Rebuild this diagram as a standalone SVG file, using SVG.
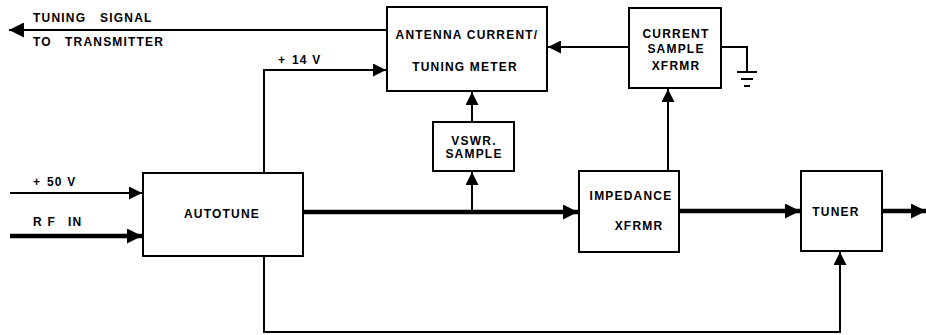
<svg xmlns="http://www.w3.org/2000/svg" width="926" height="335" viewBox="0 0 926 335">
<style>
.box{fill:#fff;stroke:#000;stroke-width:2}
.t{font-family:"Liberation Sans",Arial,sans-serif;font-weight:bold;font-size:12px;letter-spacing:1.2px;fill:#000}
.m{text-anchor:middle}
.thin{fill:none;stroke:#000;stroke-width:2}
.thick{fill:none;stroke:#000;stroke-width:4.5}
</style>
<defs>
<marker id="a" markerUnits="userSpaceOnUse" markerWidth="14" markerHeight="13" refX="13" refY="6.5" orient="auto"><path d="M0,0 L13,6.5 L0,13 z" fill="#000"/></marker>
<marker id="ab" markerUnits="userSpaceOnUse" markerWidth="16" markerHeight="15" refX="15" refY="7.5" orient="auto"><path d="M0,0 L15,7.5 L0,15 z" fill="#000"/></marker>
</defs>
<rect width="926" height="335" fill="#fff"/>
<g id="connectors">
<path class="thin" d="M387,30 L9,30" marker-end="url(#ab)"/>
<path class="thin" d="M264,172 L264,70 L386,70" marker-end="url(#a)"/>
<path class="thin" d="M629,47 L548,47" marker-end="url(#a)"/>
<path class="thin" d="M721,47 L747,47 L747,72"/>
<path class="thin" d="M737,72 L757,72 M741,79 L753,79 M744,86 L750,86"/>
<path class="thin" d="M472,122 L472,92" marker-end="url(#a)"/>
<path class="thin" d="M472,212 L472,172" marker-end="url(#a)"/>
<path class="thin" d="M668,171 L668,89" marker-end="url(#a)"/>
<path class="thin" d="M10,193 L142,193" marker-end="url(#a)"/>
<path class="thick" d="M10,236 L142,236" marker-end="url(#ab)"/>
<path class="thick" d="M303,212 L578,212" marker-end="url(#ab)"/>
<path class="thick" d="M679,211 L800,211" marker-end="url(#ab)"/>
<path class="thick" d="M882,211 L926,211" marker-end="url(#ab)"/>
<path class="thin" d="M264,256 L264,332 L840,332 L840,252" marker-end="url(#a)"/>
</g>
<g id="labels">
<text class="t" y="22"><tspan x="33">TUNING</tspan><tspan x="100">SIGNAL</tspan></text>
<text class="t" y="46"><tspan x="33">TO</tspan><tspan x="65">TRANSMITTER</tspan></text>
<text class="t" y="64"><tspan x="278">+</tspan><tspan x="292">14 V</tspan></text>
<text class="t" y="186"><tspan x="33">+</tspan><tspan x="47">50 V</tspan></text>
<text class="t" y="226"><tspan x="33">R F</tspan><tspan x="68">IN</tspan></text>
</g>
<g id="antenna">
<rect class="box" x="387" y="7" width="160" height="84"/>
<text class="t m" x="467" y="39">ANTENNA CURRENT/</text>
<text class="t m" x="465" y="71">TUNING METER</text>
</g>
<g id="current-sample">
<rect class="box" x="629" y="8" width="92" height="80"/>
<text class="t m" x="676" y="38">CURRENT</text>
<text class="t m" x="676" y="53">SAMPLE</text>
<text class="t m" x="676" y="70">XFRMR</text>
</g>
<g id="vswr">
<rect class="box" x="433" y="122" width="81" height="49"/>
<text class="t m" x="474" y="145">VSWR.</text>
<text class="t m" x="474" y="158">SAMPLE</text>
</g>
<g id="autotune">
<rect class="box" x="143" y="173" width="160" height="83"/>
<text class="t m" x="222" y="218">AUTOTUNE</text>
</g>
<g id="impedance">
<rect class="box" x="579" y="171" width="100" height="81"/>
<text class="t m" x="631" y="200">IMPEDANCE</text>
<text class="t m" x="639" y="230">XFRMR</text>
</g>
<g id="tuner">
<rect class="box" x="801" y="171" width="81" height="80"/>
<text class="t m" x="836" y="216">TUNER</text>
</g>
</svg>
